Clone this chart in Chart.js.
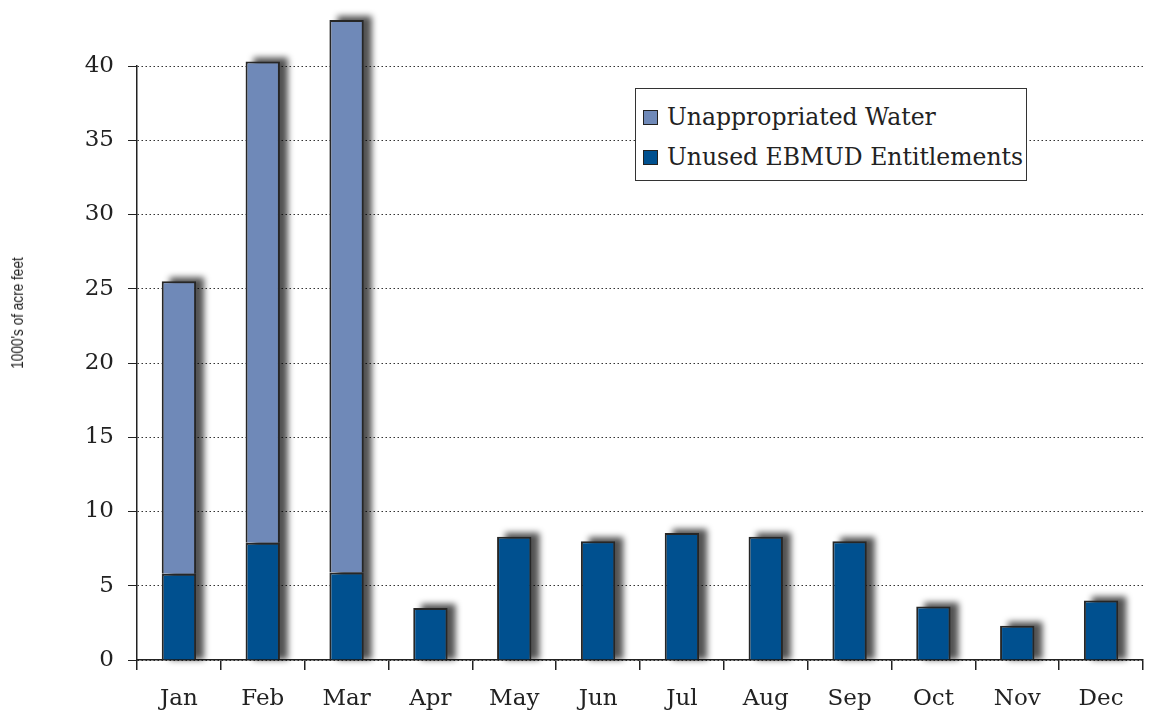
<!DOCTYPE html>
<html>
<head>
<meta charset="utf-8">
<script src="https://cdn.jsdelivr.net/npm/chart.js@4.4.0/dist/chart.umd.min.js"></script>
<style>
    html, body { margin: 0; padding: 0; background: #fff; }
    #wrap { position: relative; width: 1152px; height: 713px; }
    #legend {
        position: absolute; left: 635px; top: 88px; width: 392px; height: 93px;
        border: 1px solid #333; background: #fff; box-sizing: border-box;
        font-family: "DejaVu Serif", "Liberation Serif", serif; font-size: 23.5px; color: #222;
        padding: 8px 0 0 7px; white-space: nowrap;
    }
    .item { display: flex; align-items: center; height: 40px; }
    .swatch { width: 15px; height: 15px; border: 1px solid #222; margin-right: 9px; box-sizing: border-box; flex: none; }
    #ytitle {
        position: absolute; left: 18px; top: 313px; white-space: nowrap;
        transform: translate(-50%, -50%) rotate(-90deg) scaleX(0.85);
        font-family: "Liberation Sans", Arial, sans-serif; font-size: 16px; color: #222;
    }
</style>
</head>
<body>
<div id="wrap">
    <canvas id="chart" width="1152" height="713"></canvas>
    <div id="legend"></div>
    <div id="ytitle">1000's of acre feet</div>
</div>
<script>
// --- Data ---
const months = ["Jan", "Feb", "Mar", "Apr", "May", "Jun", "Jul", "Aug", "Sep", "Oct", "Nov", "Dec"];
const unusedEntitlements = [5.8, 7.9, 5.9, 3.5, 8.3, 8.0, 8.55, 8.3, 8.0, 3.6, 2.3, 4.0];
const unappropriatedWater = [19.7, 32.4, 37.2, 0, 0, 0, 0, 0, 0, 0, 0, 0];
const yTicks = [0, 5, 10, 15, 20, 25, 30, 35, 40];

const serif = "'DejaVu Serif', 'Liberation Serif', serif";

// soft grey drop shadow behind each stacked column
const barShadow = {
    id: 'barShadow',
    beforeDatasetsDraw(chart) {
        const ctx = chart.ctx;
        const metas = chart.getSortedVisibleDatasetMetas();
        ctx.save();
        ctx.filter = 'blur(3px)';
        ctx.fillStyle = 'rgba(0,0,0,0.68)';
        months.forEach((m, i) => {
            let top = Infinity, base = -Infinity, x = 0, w = 0;
            metas.forEach(meta => {
                const bar = meta.data[i];
                if (!bar) return;
                const p = bar.getProps(['x', 'y', 'base', 'width'], true);
                if (p.base - p.y < 0.5) return;
                top = Math.min(top, p.y);
                base = Math.max(base, p.base);
                x = p.x; w = p.width;
            });
            if (top === Infinity) return;
            ctx.fillRect(x - w / 2 + 8, top - 4, w, base - top + 4);
        });
        ctx.restore();
    }
};

const chart = new Chart(document.getElementById('chart'), {
    type: 'bar',
    data: {
        labels: months,
        datasets: [
            {
                label: 'Unused EBMUD Entitlements',
                data: unusedEntitlements,
                backgroundColor: '#00508f',
                borderColor: '#262626',
                borderWidth: 2,
                barPercentage: 0.41,
                categoryPercentage: 1,
                clip: false
            },
            {
                label: 'Unappropriated Water',
                data: unappropriatedWater,
                backgroundColor: '#6f89b8',
                borderColor: '#262626',
                borderWidth: 2,
                barPercentage: 0.41,
                categoryPercentage: 1,
                clip: false
            }
        ]
    },
    options: {
        responsive: false,
        animation: false,
        layout: { padding: { top: 66, right: 9, left: 0, bottom: 0 } },
        plugins: {
            legend: { display: false },
            tooltip: { enabled: false }
        },
        scales: {
            x: {
                stacked: true,
                afterFit: s => { s.height = 53; },
                grid: {
                    offset: true,
                    drawOnChartArea: false,
                    tickLength: 10,
                    tickColor: '#222',
                    lineWidth: 1.5
                },
                border: { color: '#222', width: 1.5 },
                ticks: { color: '#222', padding: 15, font: { family: serif, size: 23 } }
            },
            y: {
                stacked: true,
                min: 0,
                max: 40,
                afterFit: s => { s.width = 137; },
                afterBuildTicks: s => { s.ticks = yTicks.map(v => ({ value: v })); },
                grid: {
                    color: '#333',
                    lineWidth: 1,
                    tickBorderDash: [],
                    tickColor: '#222',
                    tickLength: 9
                },
                border: { color: '#222', width: 1.5, dash: [1.5, 2.5] },
                ticks: { color: '#222', padding: 14, font: { family: serif, size: 23 } }
            }
        }
    },
    plugins: [barShadow]
});

// --- Legend (top dataset first) ---
const legend = document.getElementById('legend');
chart.data.datasets.slice().reverse().forEach(ds => {
    const row = document.createElement('div');
    row.className = 'item';
    row.innerHTML = `<span class="swatch" style="background:${ds.backgroundColor}"></span>${ds.label}`;
    legend.appendChild(row);
});
</script>
</body>
</html>
